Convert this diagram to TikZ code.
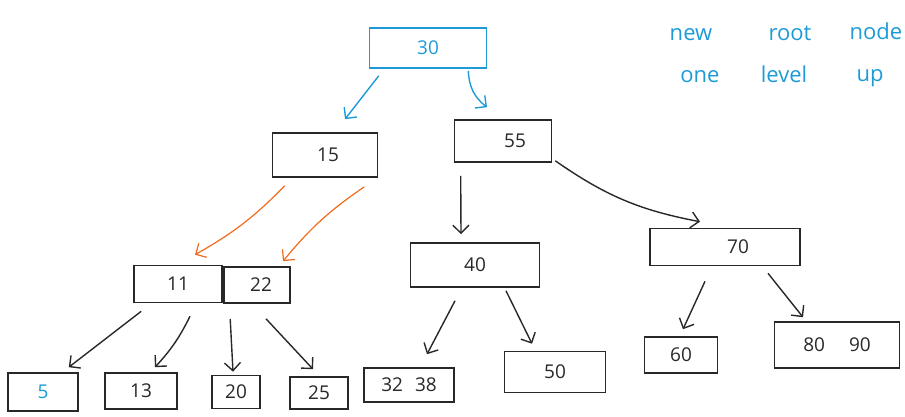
\documentclass[tikz,border=0pt]{standalone}
\usepackage{fontspec}
\setmainfont{Open Sans}
\usetikzlibrary{arrows.meta,calc}
\definecolor{inkblue}{RGB}{30,155,215}
\definecolor{inkorange}{RGB}{242,107,29}
\definecolor{inkblack}{RGB}{40,40,40}
\tikzset{
  box/.style={draw=inkblack, line width=1.6pt, rectangle, inner sep=0pt, text=inkblack,
    font=\fontsize{19}{22}\selectfont},
  arr/.style={-{Straight Barb[length=8pt,width=16pt]}, line width=1.4pt, draw=inkblack},
  note/.style={text=inkblue, font=\fontsize{22}{26}\selectfont, inner sep=0pt}
}
\begin{document}
\begin{tikzpicture}[x=1pt,y=-1pt]
\useasboundingbox (0,0) rectangle (905,416);
% level 0
\node[box, draw=inkblue, text=inkblue, minimum width=117pt, minimum height=40pt] (r30) at (428,48) {30};
% level 1
\node[box, minimum width=105pt, minimum height=44pt] (n15) at (325,155) {\hspace{6pt}15};
\node[box, minimum width=97pt, minimum height=42pt] (n55) at (503,141) {\hspace{24pt}55};
% level 2
\node[box, minimum width=88pt, minimum height=37pt] (n11) at (178,284) {11\hspace{6pt}};
\node[box, minimum width=66pt, minimum height=36pt] (n22) at (257,285) {\hspace{8pt}22};
\node[box, minimum width=129pt, minimum height=44pt] (n40) at (475,265) {40\hspace{24pt}};
\node[box, minimum width=150pt, minimum height=37pt] (n70) at (725,247) {\hspace{26pt}70};
% leaves
\node[box, minimum width=70pt, minimum height=38pt] (n5) at (43,392) {\textcolor{inkblue}{5}\hspace{36pt}};
\node[box, minimum width=72pt, minimum height=36pt] (n13) at (141,391) {13};
\node[box, minimum width=48pt, minimum height=33pt] (n20) at (236,392) {20\hspace{6pt}};
\node[box, minimum width=58pt, minimum height=32pt] (n25) at (319,393) {25};
\node[box, minimum width=90pt, minimum height=34pt] (n3238) at (409,385) {32\hspace{12pt}38\hspace{8pt}};
\node[box, minimum width=101pt, minimum height=41pt] (n50) at (555,372) {50\hspace{10pt}};
\node[box, minimum width=73pt, minimum height=36pt] (n60) at (681,355) {60};
\node[box, minimum width=125pt, minimum height=46pt] (n8090) at (837,345) {80\hspace{24pt}90\hspace{4pt}};
% annotation
\node[note] (w1) at (691,35) {new};
\node[note] (w2) at (790,33) {root};
\node[note] (w3) at (876,31) {node};
\node[note] (w4) at (700,77) {one};
\node[note] (w5) at (784,74) {level};
\node[note] (w6) at (870,78) {up};
% blue connectors
\draw[arr, draw=inkblue] ($(r30.south west)+(10,7)$) -- ($(n15.north)+(20,-13)$);
\draw[arr, draw=inkblue] ($(r30.south east)+(-19,2)$) to[bend right=25] ($(n55.north)+(-16,-12)$);
% orange connectors
\draw[arr, draw=inkorange, line width=1.2pt] ($(n15.south west)+(13,8)$) to[bend left=8] ($(n11.north)+(17,-10)$);
\draw[arr, draw=inkorange, line width=1.2pt] ($(n15.south east)+(-14,9)$) to[bend right=8] ($(n22.north)+(26,-5)$);
% black connectors
\draw[arr] ($(n55.south west)+(7,13)$) -- ($(n40.north)+(-14,-8)$);
\draw[arr] ($(n55.south east)+(3,-2)$) to[bend right=12] ($(n70.north)+(-25,-6)$);
\draw[arr] ($(n11.south west)+(8,8)$) -- ($(n5.north east)+(-10,-5)$);
\draw[arr] ($(n11.south)+(12,13)$) to[bend left=8] ($(n13.north)+(14,-5)$);
\draw[arr] ($(n22.south west)+(7,15)$) -- ($(n20.north)+(-3,-3)$);
\draw[arr] ($(n22.south)+(9,15)$) -- ($(n25.north)+(-6,-7)$);
\draw[arr] ($(n40.south)+(-20,13)$) -- ($(n3238.north)+(18,-13)$);
\draw[arr] ($(n40.south)+(31,3)$) -- ($(n50.north)+(-23,-7)$);
\draw[arr] ($(n70.south)+(-20,15)$) -- ($(n60.north)+(2,-7)$);
\draw[arr] ($(n70.south)+(43,7)$) -- ($(n8090.north)+(-34,-4)$);
\end{tikzpicture}
\end{document}
